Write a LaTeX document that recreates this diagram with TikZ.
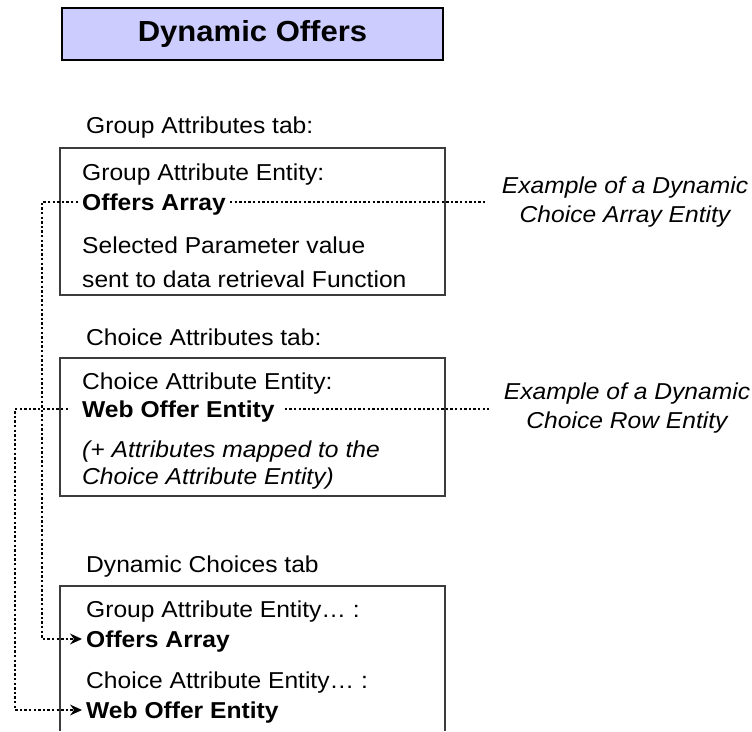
\documentclass[tikz,border=0pt]{standalone}
\usepackage{fontspec}
\setmainfont{Liberation Sans}[FakeStretch=1.07]
\usetikzlibrary{arrows.meta}
\definecolor{titlefill}{RGB}{204,204,255}
\definecolor{boxline}{RGB}{60,60,60}
\tikzset{
  txt/.style={anchor=base west, inner sep=4pt, font=\fontsize{23}{28}\selectfont},
  ent/.style={anchor=west, inner sep=4pt, text height=17pt, text depth=0pt,
    font=\fontsize{23}{28}\selectfont\bfseries},
  note/.style={align=center, font=\fontsize{23}{29}\selectfont\itshape},
  tabbox/.style={draw=boxline, line width=1.5pt},
  link/.style={line width=2.5pt, dash pattern=on 2.4pt off 2.2pt},
  tip/.style={-{Stealth[length=12pt,width=11pt,inset=4pt,line width=0pt]}}
}
\begin{document}
\begin{tikzpicture}[x=1pt,y=-1pt]
  \useasboundingbox (0,0) rectangle (752,731);
  % title
  \node[draw, line width=2.5pt, fill=titlefill, minimum width=381pt, minimum height=52pt,
    font=\fontsize{29}{32}\selectfont\bfseries] (title) at (252.5,34) {Dynamic Offers};

  % group attributes
  \node[txt] (gtab) at (82,133) {Group Attributes tab:};
  \draw[tabbox] (60,148) rectangle (445,295);
  \node[txt] (ga1) at (78,180) {Group Attribute Entity:};
  \node[ent] (oa1) at (78,202) {Offers Array};
  \node[txt] (sp1) at (78,253) {Selected Parameter value};
  \node[txt] (sp2) at (78,287) {sent to data retrieval Function};
  \node[note] (ex1) at (625,202) {Example of a Dynamic\\Choice Array Entity};

  % choice attributes
  \node[txt] (ctab) at (82,345) {Choice Attributes tab:};
  \draw[tabbox] (60,358) rectangle (445,496);
  \node[txt] (ca2) at (78,389) {Choice Attribute Entity:};
  \node[ent] (wo2) at (78,409) {Web Offer Entity};
  \node[txt, font=\fontsize{23}{28}\selectfont\itshape] (am1) at (78,457) {(+ Attributes mapped to the};
  \node[txt, font=\fontsize{23}{28}\selectfont\itshape] (am2) at (78,484) {Choice Attribute Entity)};
  \node[note] (ex2) at (627,408) {Example of a Dynamic\\Choice Row Entity};

  % dynamic choices
  \node[txt] (dtab) at (82,572) {Dynamic Choices tab};
  \draw[tabbox] (60,731) -- (60,586) -- (445,586) -- (445,731);
  \node[txt] (ga3) at (82,617) {Group Attribute Entity… :};
  \node[ent] (oa3) at (82,639) {Offers Array};
  \node[txt] (ca3) at (82,688) {Choice Attribute Entity… :};
  \node[ent] (wo3) at (82,710) {Web Offer Entity};

  % dotted links
  \draw[link, shorten >=11pt] (oa1.east) -- (ex1.west |- oa1.east);
  \draw[link, shorten <=6pt, shorten >=11pt] (wo2.east) -- (ex2.west |- wo2.east);
  \draw[link, tip] (oa1.west) -- ++(-36,0) |- (oa3.west);
  \draw[link, tip] ([xshift=-10pt]wo2.west) -- ++(-53,0) |- (wo3.west);
\end{tikzpicture}
\end{document}
